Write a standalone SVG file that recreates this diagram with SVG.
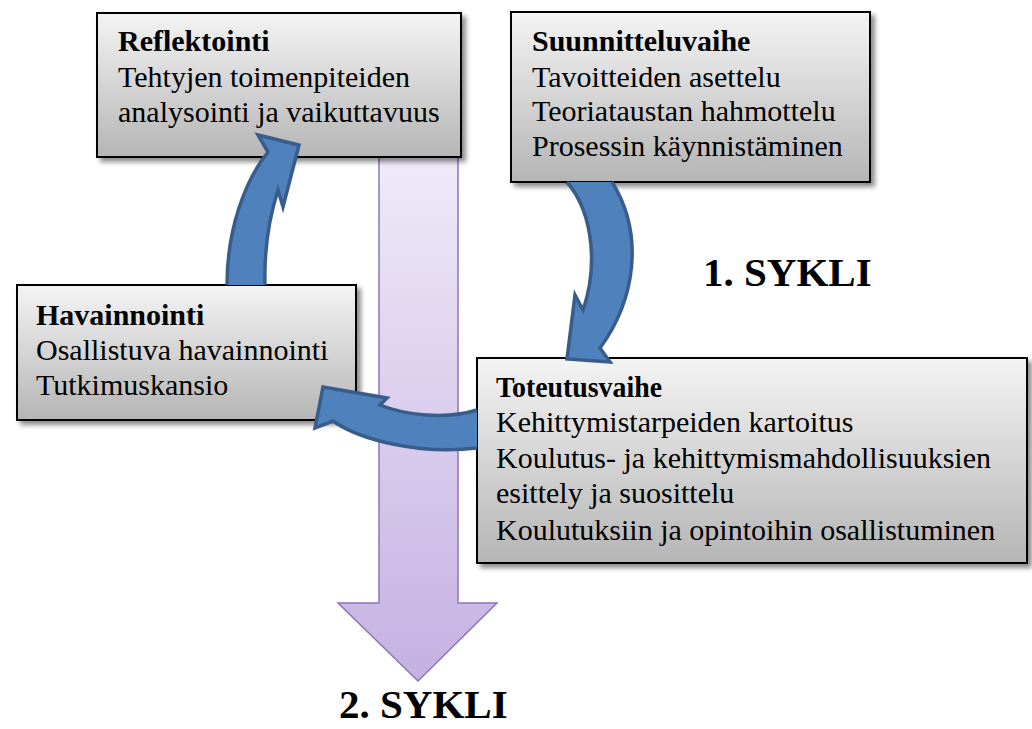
<svg xmlns="http://www.w3.org/2000/svg" width="1032" height="729" viewBox="0 0 1032 729">
  <defs>
    <linearGradient id="boxFill" x1="0" y1="0" x2="0" y2="1">
      <stop offset="0" stop-color="#f4f4f4"/>
      <stop offset="1" stop-color="#b5b5b5"/>
    </linearGradient>
    <linearGradient id="cycleFill" x1="0" y1="0" x2="0" y2="1">
      <stop offset="0" stop-color="#efeaf8"/>
      <stop offset="1" stop-color="#c5b1e2"/>
    </linearGradient>
    <filter id="shadow" x="-10%" y="-10%" width="125%" height="130%">
      <feDropShadow dx="4" dy="4" stdDeviation="2.5" flood-color="#000" flood-opacity="0.45"/>
    </filter>
    <style>
      .box { fill: url(#boxFill); stroke: #000; stroke-width: 2; filter: url(#shadow); }
      .txt { font-family: "Liberation Serif", "Times New Roman", serif; font-size: 30px; fill: #000; }
      .ttl { font-weight: bold; }
      .cycle { font-family: "Liberation Serif", "Times New Roman", serif; font-size: 41px; font-weight: bold; fill: #000; }
      .curve { fill: #4f81bd; stroke: #385d8a; stroke-width: 3.5; stroke-linejoin: miter; }
      .down { fill: url(#cycleFill); stroke: #8f74ba; stroke-width: 1.5; }
    </style>
  </defs>

  <!-- big arrow leading on to the second cycle -->
  <path class="down" d="M379,157 L458,157 L458,603 L497,603 L418,681 L338,603 L379,603 Z"/>

  <g id="reflektointi">
    <rect class="box" x="97" y="13" width="364" height="144"/>
    <text class="txt ttl" x="118" y="51">Reflektointi</text>
    <text class="txt" x="118" y="87">Tehtyjen toimenpiteiden</text>
    <text class="txt" x="118" y="122">analysointi ja vaikuttavuus</text>
  </g>

  <g id="suunnitteluvaihe">
    <rect class="box" x="511" y="12" width="359" height="170"/>
    <text class="txt ttl" x="532" y="51">Suunnitteluvaihe</text>
    <text class="txt" x="532" y="87">Tavoitteiden asettelu</text>
    <text class="txt" x="532" y="121">Teoriataustan hahmottelu</text>
    <text class="txt" x="532" y="156">Prosessin käynnistäminen</text>
  </g>

  <g id="havainnointi">
    <rect class="box" x="17" y="285" width="339" height="135"/>
    <text class="txt ttl" x="36" y="325">Havainnointi</text>
    <text class="txt" x="36" y="360">Osallistuva havainnointi</text>
    <text class="txt" x="36" y="395">Tutkimuskansio</text>
  </g>

  <g id="toteutusvaihe">
    <rect class="box" x="477" y="358" width="550" height="205"/>
    <text class="txt ttl" x="496" y="397" textLength="166" lengthAdjust="spacingAndGlyphs">Toteutusvaihe</text>
    <text class="txt" x="496" y="432">Kehittymistarpeiden kartoitus</text>
    <text class="txt" x="496" y="468">Koulutus- ja kehittymismahdollisuuksien</text>
    <text class="txt" x="496" y="503">esittely ja suosittelu</text>
    <text class="txt" x="496" y="540">Koulutuksiin ja opintoihin osallistuminen</text>
  </g>

  <!-- curved cycle arrows; the open paths leave the tail edge unstroked -->
  <g id="connectors">
    <path class="curve" d="M612,182 C645,235 635,300 600,348 L610,362 L567,359 L575,295 L583,310 C597,270 595,215 567,182"/>
    <path class="curve" d="M477,410 C445,420 405,415 380,405 L387,398 L323,387 L315,428 L333,421 C360,440 420,455 477,448"/>
    <path class="curve" d="M227,285 C227,230 245,180 268,152 L258,135 L299,145 L283,207 L278,190 C270,215 264,250 265,285"/>
  </g>

  <text class="cycle" x="703" y="286">1. SYKLI</text>
  <text class="cycle" x="339" y="718">2. SYKLI</text>
</svg>
